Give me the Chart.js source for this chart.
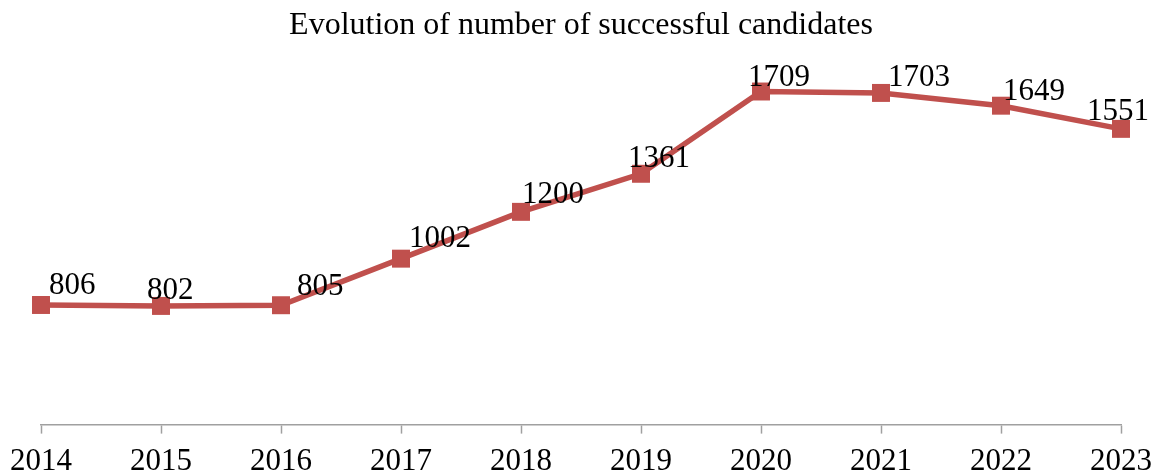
<!DOCTYPE html>
<html>
<head>
<meta charset="utf-8">
<title>Successful candidates</title>
<script src="https://cdn.jsdelivr.net/npm/chart.js@4.4.1/dist/chart.umd.min.js"></script>
<style>
    html, body { margin: 0; padding: 0; background: #ffffff; }
    #wrap { width: 1160px; height: 475px; position: relative; }
</style>
</head>
<body>
<div id="wrap"><canvas id="chart"></canvas></div>
<script>
const years = ['2014', '2015', '2016', '2017', '2018', '2019', '2020', '2021', '2022', '2023'];
const candidates = [806, 802, 805, 1002, 1200, 1361, 1709, 1703, 1649, 1551];

// where each value label sits relative to its marker (left edge, baseline)
const labelShift = [
    [8, -11], [-14, -7], [16, -10], [8, -12], [1, -9],
    [-13, -7], [-13, -6], [7, -7], [2, -6], [-34, -9]
];

const serif = '"Liberation Serif", "Times New Roman", serif';
const lineRed = '#C0504D';

const valueLabels = {
    id: 'valueLabels',
    afterDatasetsDraw(chart) {
        const ctx = chart.ctx;
        const meta = chart.getDatasetMeta(0);
        ctx.save();
        ctx.font = '31px ' + serif;
        ctx.fillStyle = '#000000';
        ctx.textAlign = 'left';
        ctx.textBaseline = 'alphabetic';
        meta.data.forEach(function (pt, i) {
            const s = labelShift[i];
            ctx.fillText(String(candidates[i]), pt.x + s[0], pt.y + s[1]);
        });
        ctx.restore();
    }
};

new Chart(document.getElementById('chart').getContext('2d'), {
    type: 'line',
    data: {
        labels: years,
        datasets: [{
            label: 'Successful candidates',
            data: candidates,
            borderColor: lineRed,
            backgroundColor: lineRed,
            borderWidth: 5.5,
            pointStyle: 'rect',
            pointRadius: 12.7,
            pointHoverRadius: 12.7,
            pointBackgroundColor: lineRed,
            pointBorderColor: lineRed,
            pointBorderWidth: 0,
            tension: 0,
            clip: false
        }]
    },
    options: {
        responsive: true,
        maintainAspectRatio: false,
        animation: false,
        layout: {
            autoPadding: false,
            padding: { left: 41, right: 39, top: 6, bottom: -14.6 }
        },
        plugins: {
            legend: { display: false },
            tooltip: { enabled: false },
            title: {
                display: true,
                text: 'Evolution of number of successful candidates',
                color: '#000000',
                font: { family: serif, size: 32, weight: 'normal' },
                padding: { top: 0, bottom: 25.6 }
            }
        },
        scales: {
            x: {
                offset: false,
                border: { display: true, color: '#a0a0a0', width: 1.5 },
                grid: {
                    display: true,
                    drawOnChartArea: false,
                    drawTicks: true,
                    tickLength: 9,
                    tickWidth: 1.5,
                    color: '#a0a0a0'
                },
                ticks: {
                    color: '#000000',
                    padding: 8,
                    maxRotation: 0,
                    autoSkip: false,
                    font: { family: serif, size: 31, lineHeight: 1.29 }
                }
            },
            y: {
                display: false,
                min: 300,
                max: 1800
            }
        }
    },
    plugins: [valueLabels]
});
</script>
</body>
</html>
